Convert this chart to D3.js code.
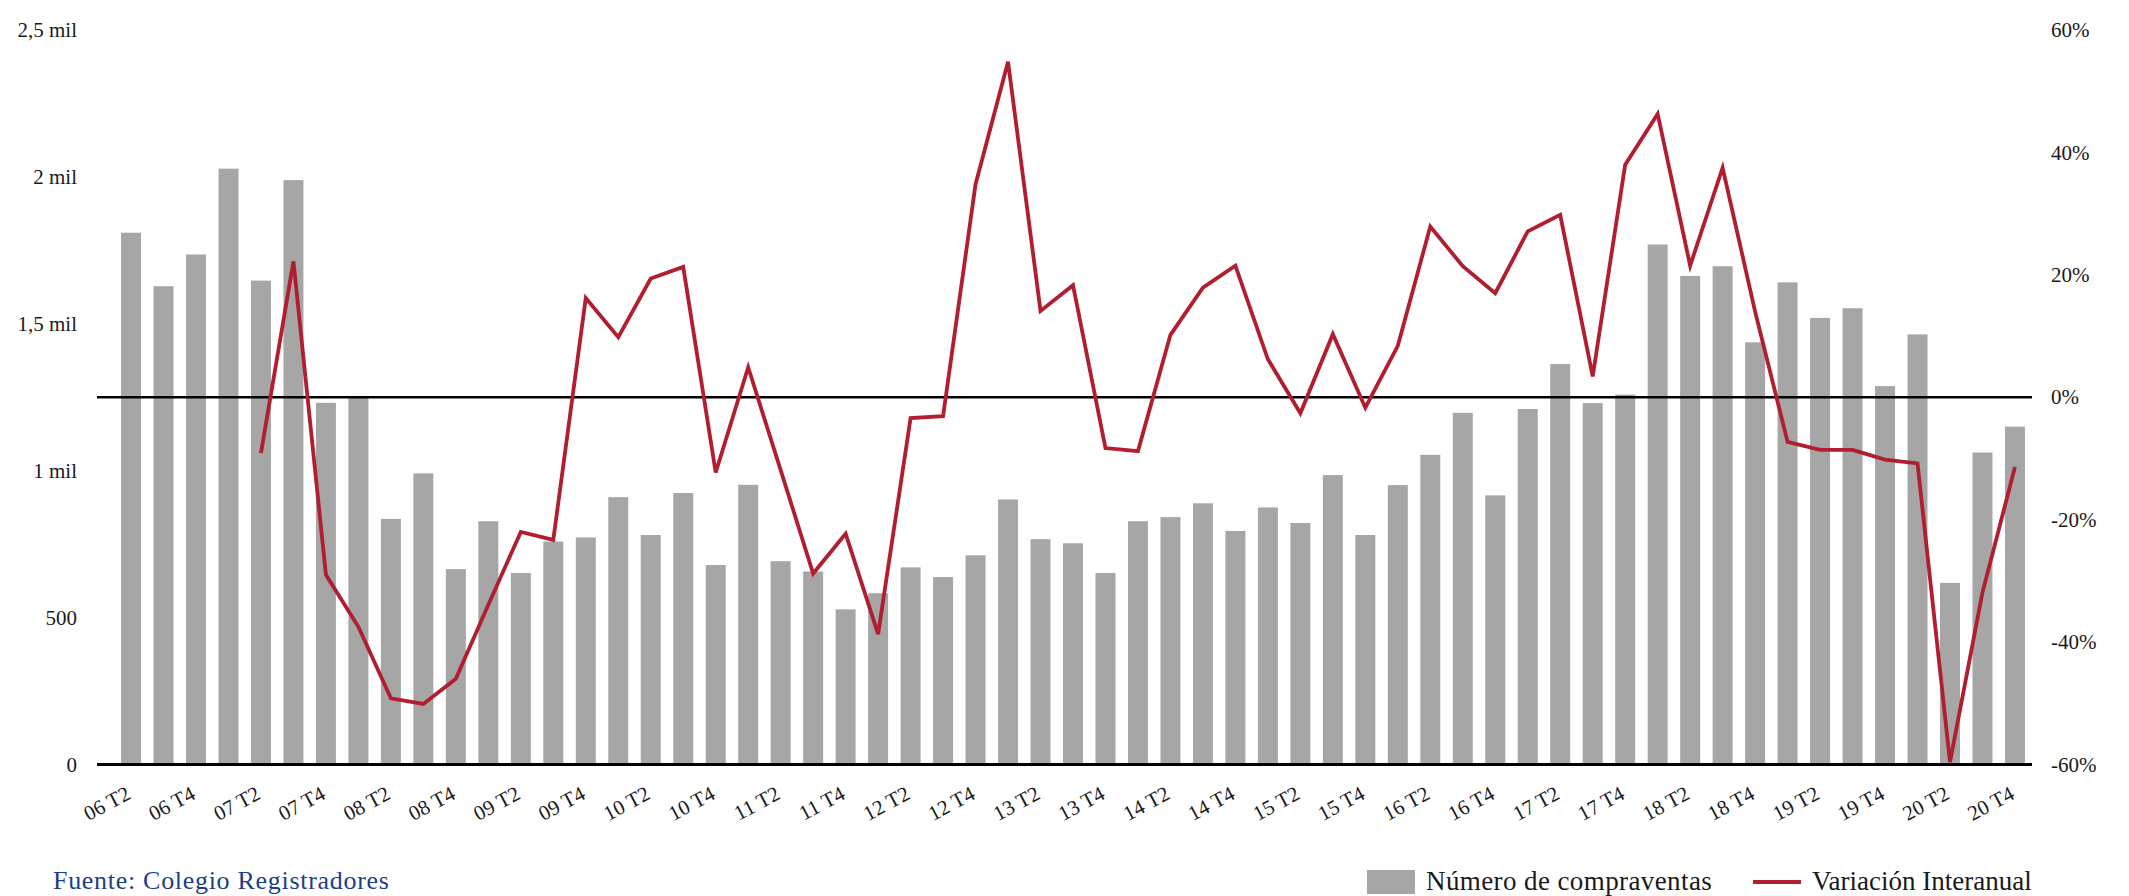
<!DOCTYPE html>
<html>
<head>
<meta charset="utf-8">
<script src="https://cdn.jsdelivr.net/npm/d3@7/dist/d3.min.js"></script>
<style>
  body { margin: 0; background: #fff; }
  text { font-family: "Liberation Serif", "DejaVu Serif", serif; fill: #1a1a1a; }
</style>
</head>
<body>
<div id="chart"></div>
<script>
const quarters = [
  "06 T2","06 T3","06 T4",
  "07 T1","07 T2","07 T3","07 T4",
  "08 T1","08 T2","08 T3","08 T4",
  "09 T1","09 T2","09 T3","09 T4",
  "10 T1","10 T2","10 T3","10 T4",
  "11 T1","11 T2","11 T3","11 T4",
  "12 T1","12 T2","12 T3","12 T4",
  "13 T1","13 T2","13 T3","13 T4",
  "14 T1","14 T2","14 T3","14 T4",
  "15 T1","15 T2","15 T3","15 T4",
  "16 T1","16 T2","16 T3","16 T4",
  "17 T1","17 T2","17 T3","17 T4",
  "18 T1","18 T2","18 T3","18 T4",
  "19 T1","19 T2","19 T3","19 T4",
  "20 T1","20 T2","20 T3","20 T4"
];

// número de compraventas
const sales = [
  1810, 1628, 1736,
  2028, 1647, 1989, 1231,
  1254, 836, 991, 665,
  828, 652, 759, 773,
  910, 781, 924, 679,
  952, 692, 657, 528,
  583, 671, 638, 712,
  902, 767, 753, 652,
  828, 842, 889, 795,
  875, 822, 985, 781,
  951, 1054, 1197, 916,
  1210, 1363, 1230, 1259,
  1770, 1663, 1696, 1437,
  1641, 1520, 1553, 1288,
  1464, 618, 1062, 1150
];

// variación interanual (no hay dato el primer año)
const yoy = [
  null, null, null,
  null, -0.091, 0.222, -0.290,
  -0.375, -0.492, -0.501, -0.460,
  -0.339, -0.220, -0.233, 0.162,
  0.098, 0.194, 0.213, -0.123,
  0.049, -0.119, -0.288, -0.223,
  -0.387, -0.034, -0.031, 0.348,
  0.548, 0.141, 0.183, -0.083,
  -0.088, 0.102, 0.179, 0.215,
  0.062, -0.026, 0.103, -0.017,
  0.084, 0.279, 0.214, 0.170,
  0.271, 0.298, 0.034, 0.380,
  0.463, 0.215, 0.375, 0.140,
  -0.073, -0.086, -0.086, -0.102,
  -0.108, -0.596, -0.319, -0.114
];

const leftTicks = [0, 500, 1000, 1500, 2000, 2500];
const leftTickLabels = ["0", "500", "1 mil", "1,5 mil", "2 mil", "2,5 mil"];
const rightTicks = [-0.6, -0.4, -0.2, 0, 0.2, 0.4, 0.6];
const rightTickLabels = ["-60%", "-40%", "-20%", "0%", "20%", "40%", "60%"];
const xTickLabels = quarters.filter((d, i) => i % 2 === 0);

const seriesNames = ["Número de compraventas", "Variación Interanual"];
const source = "Fuente: Colegio Registradores";

const barColor = "#a6a6a6";
const lineColor = "#b01e2f";

const svg = d3.select("#chart")
  .append("svg")
  .attr("width", 2129)
  .attr("height", 896);

const x = d3.scaleBand()
  .domain(quarters)
  .range([114.8, 2031.2])
  .paddingInner(0.385)
  .paddingOuter(0.1925);

const y = d3.scaleLinear()
  .domain([0, 2500])
  .range([764.5, 30]);

const y2 = d3.scaleLinear()
  .domain([-0.6, 0.6])
  .range([764.5, 30]);

// barras
svg.append("g")
  .selectAll("rect")
  .data(quarters)
  .enter()
  .append("rect")
  .attr("x", d => x(d))
  .attr("y", (d, i) => y(sales[i]))
  .attr("width", x.bandwidth())
  .attr("height", (d, i) => y(0) - y(sales[i]))
  .attr("fill", barColor);

// línea del 0% y eje inferior
svg.append("line")
  .attr("x1", 97).attr("x2", 2032)
  .attr("y1", y2(0)).attr("y2", y2(0))
  .attr("stroke", "#000")
  .attr("stroke-width", 2.5);

svg.append("line")
  .attr("x1", 97).attr("x2", 2032)
  .attr("y1", y(0)).attr("y2", y(0))
  .attr("stroke", "#000")
  .attr("stroke-width", 3);

// ejes
const leftAxis = svg.append("g")
  .attr("transform", "translate(77,0)")
  .call(d3.axisLeft(y)
    .tickValues(leftTicks)
    .tickFormat((d, i) => leftTickLabels[i])
    .tickSize(0)
    .tickPadding(0));

const rightAxis = svg.append("g")
  .attr("transform", "translate(2051,0)")
  .call(d3.axisRight(y2)
    .tickValues(rightTicks)
    .tickFormat((d, i) => rightTickLabels[i])
    .tickSize(0)
    .tickPadding(0));

const bottomAxis = svg.append("g")
  .attr("transform", `translate(0,${y(0)})`)
  .call(d3.axisBottom(x)
    .tickValues(xTickLabels)
    .tickSize(0));

[leftAxis, rightAxis, bottomAxis].forEach(g => {
  g.select(".domain").remove();
  g.selectAll("text")
    .attr("font-family", "Liberation Serif")
    .attr("font-size", 21)
    .attr("fill", "#1a1a1a");
});

bottomAxis.selectAll("text")
  .attr("text-anchor", "end")
  .attr("x", 1)
  .attr("y", 0)
  .attr("dy", 0)
  .attr("transform", "translate(0,34) rotate(-28)");

// variación interanual
const line = d3.line()
  .defined(d => d.v !== null)
  .x(d => x(d.q) + x.bandwidth() / 2)
  .y(d => y2(d.v));

svg.append("path")
  .datum(quarters.map((q, i) => ({ q, v: yoy[i] })))
  .attr("d", line)
  .attr("fill", "none")
  .attr("stroke", lineColor)
  .attr("stroke-width", 3.8)
  .attr("stroke-linejoin", "miter");

// leyenda
const legend = svg.append("g");
legend.append("rect")
  .attr("x", 1367).attr("y", 870)
  .attr("width", 48).attr("height", 24)
  .attr("fill", barColor);
legend.append("text")
  .attr("x", 1426).attr("y", 890)
  .attr("font-size", 27)
  .attr("letter-spacing", 0.4)
  .text(seriesNames[0]);
legend.append("line")
  .attr("x1", 1753).attr("x2", 1801)
  .attr("y1", 882).attr("y2", 882)
  .attr("stroke", lineColor)
  .attr("stroke-width", 4);
legend.append("text")
  .attr("x", 1812).attr("y", 890)
  .attr("font-size", 27)
  .text(seriesNames[1]);

svg.append("text")
  .attr("x", 53).attr("y", 889)
  .attr("font-size", 26)
  .attr("letter-spacing", 0.7)
  .style("fill", "#1d3f86")
  .text(source);
</script>
</body>
</html>
